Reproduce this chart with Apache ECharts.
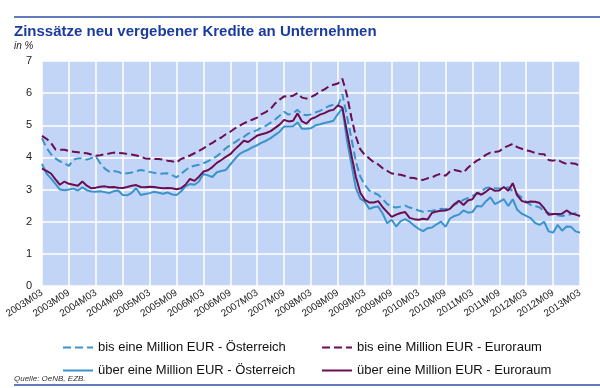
<!DOCTYPE html>
<html><head><meta charset="utf-8">
<script src="https://cdn.jsdelivr.net/npm/echarts@6/dist/echarts.min.js"></script>
<style>html,body{margin:0;padding:0;background:#fff}#c{width:600px;height:388px}</style>
</head><body><div id="c"></div>
<script>
// Categories: monthly 2003M03 .. 2013M03
const startYear = 2003, startMonth = 3, nMonths = 121;
const categories = [];
for (let k = 0; k < nMonths; k++) {
  const m = startMonth - 1 + k;
  const y = startYear + Math.floor(m / 12);
  const mm = (m % 12) + 1;
  categories.push(y + 'M' + (mm < 10 ? '0' + mm : mm));
}
const yTicks = [0, 1, 2, 3, 4, 5, 6, 7];

const atBis = [4.60,4.30,4.10,3.97,3.88,3.82,3.74,3.93,3.97,3.98,3.93,3.98,
4.03,3.82,3.65,3.56,3.58,3.55,3.49,3.51,3.53,3.57,3.61,3.58,
3.55,3.52,3.49,3.50,3.51,3.45,3.38,3.49,3.60,3.70,3.74,3.77,
3.82,3.88,3.95,4.04,4.15,4.29,4.38,4.47,4.56,4.64,4.74,4.80,
4.85,4.93,4.99,5.08,5.18,5.30,5.42,5.33,5.38,5.48,5.34,5.31,
5.34,5.40,5.45,5.52,5.60,5.64,5.60,5.97,5.30,4.60,3.87,3.40,
3.15,2.97,2.90,2.84,2.70,2.55,2.46,2.44,2.47,2.50,2.44,2.40,
2.35,2.31,2.33,2.34,2.37,2.40,2.39,2.44,2.52,2.60,2.68,2.74,
2.80,2.87,2.94,3.05,3.07,3.04,3.03,3.04,3.07,2.95,2.86,2.75,
2.62,2.52,2.48,2.45,2.31,2.27,2.21,2.20,2.18,2.20,2.24,2.26,2.28];

const euBis = [4.67,4.58,4.45,4.25,4.24,4.24,4.20,4.18,4.16,4.14,4.13,4.09,
4.05,4.07,4.10,4.12,4.15,4.14,4.13,4.11,4.09,4.06,4.03,3.97,
3.96,3.95,3.95,3.93,3.90,3.88,3.84,3.95,4.00,4.06,4.13,4.20,
4.28,4.38,4.45,4.55,4.62,4.72,4.80,4.90,4.98,5.06,5.12,5.18,
5.24,5.35,5.42,5.51,5.68,5.80,5.90,5.89,5.92,6.00,5.86,5.83,
5.88,5.95,6.05,6.12,6.21,6.26,6.30,6.45,5.95,5.25,4.65,4.25,
4.08,3.97,3.85,3.78,3.66,3.58,3.50,3.48,3.46,3.42,3.37,3.36,
3.32,3.30,3.35,3.38,3.45,3.49,3.43,3.56,3.61,3.58,3.53,3.68,
3.80,3.90,3.97,4.08,4.15,4.17,4.19,4.30,4.36,4.42,4.32,4.27,
4.22,4.19,4.14,4.11,4.10,3.92,3.90,3.93,3.85,3.80,3.82,3.80,3.74];

const atUeber = [3.80,3.50,3.35,3.18,3.00,2.98,3.00,3.03,2.97,3.07,2.98,2.94,
2.93,2.95,2.92,2.89,2.95,2.97,2.83,2.82,2.90,3.04,2.83,2.86,
2.89,2.93,2.90,2.87,2.91,2.85,2.83,2.94,3.10,3.17,3.15,3.25,
3.49,3.44,3.39,3.54,3.58,3.61,3.78,3.95,4.10,4.18,4.24,4.32,
4.38,4.46,4.52,4.60,4.70,4.80,4.96,4.96,4.97,5.09,4.89,4.89,
4.91,5.00,5.03,5.07,5.10,5.14,5.35,5.53,4.55,3.80,3.05,2.72,
2.62,2.40,2.45,2.47,2.25,1.95,2.06,1.85,2.02,2.08,2.00,1.88,
1.78,1.71,1.80,1.82,1.92,2.00,1.84,2.10,2.18,2.22,2.35,2.28,
2.30,2.49,2.47,2.63,2.76,2.55,2.62,2.70,2.49,2.70,2.37,2.25,
2.18,2.11,1.96,1.90,2.00,1.70,1.66,1.90,1.72,1.85,1.84,1.70,1.66];

const euUeber = [3.65,3.58,3.50,3.32,3.15,3.25,3.18,3.15,3.12,3.25,3.12,3.04,
3.06,3.09,3.10,3.07,3.08,3.06,3.05,3.08,3.12,3.14,3.08,3.07,
3.09,3.08,3.06,3.04,3.05,3.04,3.01,3.04,3.15,3.33,3.27,3.40,
3.56,3.60,3.70,3.83,3.92,4.02,4.10,4.25,4.38,4.52,4.48,4.58,
4.68,4.72,4.76,4.82,4.92,5.02,5.17,5.12,5.14,5.37,5.12,5.05,
5.20,5.25,5.33,5.38,5.45,5.48,5.62,5.55,4.82,4.08,3.40,2.90,
2.68,2.60,2.60,2.64,2.45,2.30,2.15,2.22,2.27,2.30,2.12,2.08,
2.06,2.09,2.07,2.28,2.32,2.34,2.35,2.40,2.55,2.65,2.52,2.66,
2.70,2.90,2.84,2.93,3.04,2.96,2.97,3.08,2.96,3.20,2.82,2.65,
2.60,2.63,2.62,2.58,2.42,2.22,2.24,2.24,2.25,2.35,2.26,2.22,2.18];

const names = [
  'bis eine Million EUR - Österreich',
  'über eine Million EUR - Österreich',
  'bis eine Million EUR - Euroraum',
  'über eine Million EUR - Euroraum'
];
const BLUE = '#3a93cc', PURPLE = '#6a0d52';

const chart = echarts.init(document.getElementById('c'), null, {renderer: 'canvas'});
const font = 'Arial, "Liberation Sans", sans-serif';
function line(name, data, color, type) {
  return {
    name, type: 'line', data, symbol: 'none', smooth: false,
    lineStyle: {color, width: 2, type: type},
    itemStyle: {color},
    z: type === 'solid' ? 3 : 2
  };
}
const legendCommon = {
  orient: 'vertical', top: 336, itemGap: 10, itemWidth: 30, itemHeight: 12,
  itemStyle: {opacity: 0},
  textStyle: {fontSize: 13, color: '#111', fontFamily: font}
};
chart.setOption({
  animation: false,
  textStyle: {fontFamily: font},
  graphic: [
    {type: 'line', shape: {x1: 14, y1: 17, x2: 600, y2: 17}, style: {stroke: '#2f4fa6', lineWidth: 1.5}},
    {type: 'line', shape: {x1: 14, y1: 385, x2: 600, y2: 385}, style: {stroke: '#2f4fa6', lineWidth: 1.5}},
    {type: 'text', left: 14, top: 24, style: {text: 'Zinssätze neu vergebener Kredite an Unternehmen', font: 'bold 15px ' + font, fill: '#1b3c9e'}},
    {type: 'text', left: 14, top: 41, style: {text: 'in %', font: 'italic 10px ' + font, fill: '#222'}},
    {type: 'text', left: 14, top: 375, style: {text: 'Quelle: OeNB, EZB.', font: 'italic 8px ' + font, fill: '#333'}}
  ],
  grid: {left: 42, right: 20, top: 61, bottom: 102, show: true, backgroundColor: '#c3d5f7', borderWidth: 0},
  legend: [
    Object.assign({data: [names[0], names[1]], left: 57}, legendCommon),
    Object.assign({data: [names[2], names[3]], left: 316}, legendCommon)
  ],
  xAxis: {
    type: 'category', data: categories, boundaryGap: false,
    axisLine: {show: false}, axisTick: {show: false},
    axisLabel: {interval: 5, rotate: 33, fontSize: 10, color: '#222', margin: 6, fontFamily: font},
    splitLine: {show: true, interval: 5, lineStyle: {color: '#ffffff', width: 1.5}}
  },
  yAxis: {
    type: 'value', min: yTicks[0], max: yTicks[yTicks.length - 1], interval: 1,
    axisLine: {show: false}, axisTick: {show: false},
    axisLabel: {fontSize: 11, color: '#222', margin: 10, fontFamily: font},
    splitLine: {show: true, lineStyle: {color: '#ffffff', width: 1.5}}
  },
  series: [
    line(names[0], atBis, BLUE, 'dashed'),
    line(names[1], atUeber, BLUE, 'solid'),
    line(names[2], euBis, PURPLE, 'dashed'),
    line(names[3], euUeber, PURPLE, 'solid')
  ]
});
</script></body></html>
